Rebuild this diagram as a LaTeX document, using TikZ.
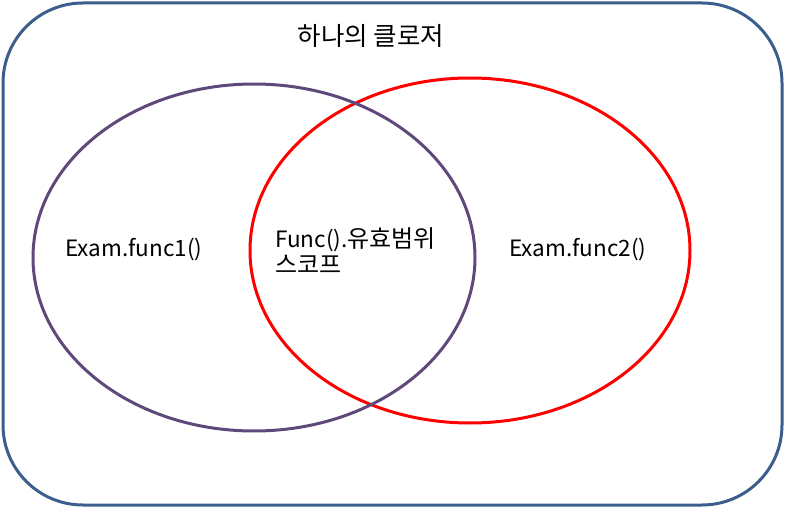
\documentclass[tikz,border=0pt]{standalone}
\usepackage{fontspec}
\setmainfont{Noto Sans CJK KR}
\usetikzlibrary{shapes.geometric}
\definecolor{frameblue}{HTML}{3B5E8C}
\definecolor{setpurple}{HTML}{5F497A}
\definecolor{setred}{HTML}{FF0000}
\newcommand{\hg}[1]{{\fontsize{24}{26}\selectfont #1}}
\newcommand{\hgt}[1]{{\fontsize{25.5}{26}\selectfont #1}}
\tikzset{
  px/.style={x=1pt,y=-1pt},
  frame/.style={draw=frameblue,line width=3pt,rounded corners=80pt},
  setshape/.style={ellipse,inner sep=0pt,line width=3pt},
  lbl/.style={font=\fontsize{22.5}{26}\selectfont,inner sep=0pt,align=left},
}
\begin{document}
\begin{tikzpicture}[px]
\useasboundingbox (0,0) rectangle (785,508);
\draw[frame] (3,3) rectangle (782,505);
\node[setshape,draw=setred,minimum width=440pt,minimum height=345pt] (right) at (470,250.5) {};
\node[setshape,draw=setpurple,minimum width=442pt,minimum height=347pt] (left) at (254,257.5) {};
\node[lbl,anchor=center] (title) at (371,36) {\hgt{하나의 클로저}};
\node[lbl,anchor=base west] (f1) at (65,256) {Exam.func1()};
\node[lbl,anchor=west] (mid) at (275,251) {Func().\hg{유효범위}\\\hg{스코프}};
\node[lbl,anchor=base west] (f2) at (509,256) {Exam.func2()};
\end{tikzpicture}
\end{document}
